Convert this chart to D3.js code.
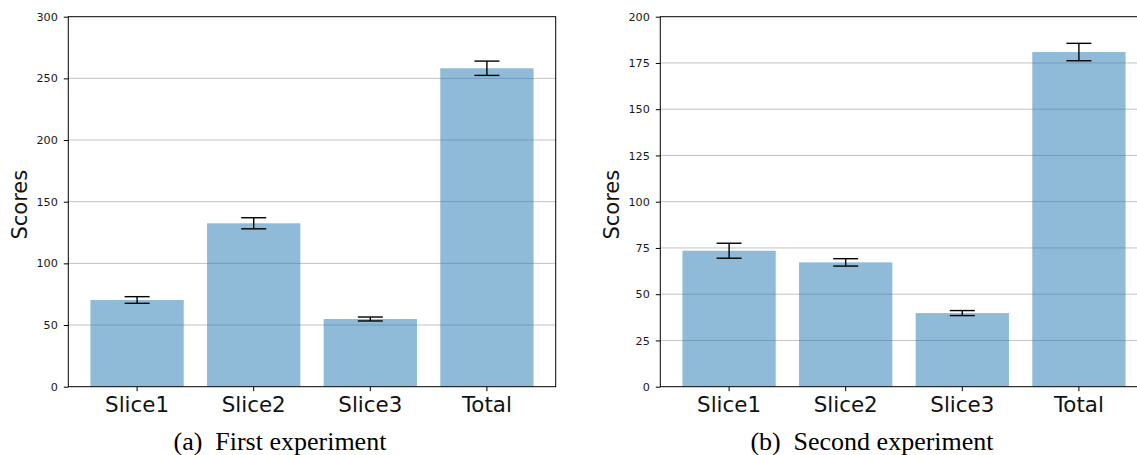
<!DOCTYPE html>
<html>
<head>
<meta charset="utf-8">
<script src="https://cdn.jsdelivr.net/npm/d3@7"></script>
<style>
  html, body { margin: 0; padding: 0; background: #fff; }
  svg { display: block; }
</style>
</head>
<body>
<svg id="fig" width="1137" height="455"></svg>
<script>
// Categories shared by both experiments
const categories = ["Slice1", "Slice2", "Slice3", "Total"];

// First experiment: mean scores and error half-widths
const firstScores = [70.3, 132.5, 54.9, 258.2];
const firstErrors = [2.7, 4.5, 1.6, 5.8];
const firstTicks = [0, 50, 100, 150, 200, 250, 300];

// Second experiment: mean scores and error half-widths
const secondScores = [73.5, 67.2, 39.8, 180.9];
const secondErrors = [4.05, 2.0, 1.35, 4.7];
const secondTicks = [0, 25, 50, 75, 100, 125, 150, 175, 200];

const captions = [
  { tag: "(a)", text: "First experiment" },
  { tag: "(b)", text: "Second experiment" }
];

const svg = d3.select("#fig");

const plotW = 487.4, plotTop = 16.7, plotBottom = 386.7;

function panel(left, scores, errors, ticks, caption) {
  const g = svg.append("g");
  const x = d3.scaleBand()
    .domain(categories)
    .range([left, left + plotW])
    .paddingInner(0.2)
    .paddingOuter(0.19);
  const y = d3.scaleLinear()
    .domain([ticks[0], ticks[ticks.length - 1]])
    .range([plotBottom, plotTop]);

  // horizontal grid
  g.append("g").selectAll("line")
    .data(ticks.slice(1, -1))
    .join("line")
    .attr("x1", left).attr("x2", left + plotW)
    .attr("y1", d => y(d)).attr("y2", d => y(d))
    .attr("stroke", "#c2c2c2")
    .attr("stroke-width", 1);

  // bars
  g.append("g").selectAll("rect")
    .data(categories)
    .join("rect")
    .attr("x", d => x(d))
    .attr("width", x.bandwidth())
    .attr("y", (d, i) => y(scores[i]))
    .attr("height", (d, i) => y(0) - y(scores[i]))
    .attr("fill", "#1f77b4")
    .attr("fill-opacity", 0.5);

  // error bars with caps
  const eb = g.append("g").attr("stroke", "#000").attr("stroke-width", 1.4);
  categories.forEach((c, i) => {
    const cx = x(c) + x.bandwidth() / 2;
    const lo = y(scores[i] - errors[i]), hi = y(scores[i] + errors[i]);
    eb.append("line").attr("x1", cx).attr("x2", cx).attr("y1", lo).attr("y2", hi);
    eb.append("line").attr("x1", cx - 12.5).attr("x2", cx + 12.5).attr("y1", lo).attr("y2", lo);
    eb.append("line").attr("x1", cx - 12.5).attr("x2", cx + 12.5).attr("y1", hi).attr("y2", hi);
  });

  // y axis
  const ya = g.append("g")
    .attr("transform", `translate(${left},0)`)
    .call(d3.axisLeft(y).tickValues(ticks).tickSize(4.5).tickPadding(6).tickFormat(d3.format("d")));
  ya.select(".domain").remove();
  ya.selectAll("line").attr("stroke", "#000").attr("stroke-width", 1);
  ya.selectAll("text")
    .attr("font-family", "DejaVu Sans")
    .attr("font-size", 11.2)
    .attr("fill", "#1a1a1a");

  // x axis
  const xa = g.append("g")
    .attr("transform", `translate(0,${plotBottom})`)
    .call(d3.axisBottom(x).tickSize(4.5).tickPadding(6));
  xa.select(".domain").remove();
  xa.selectAll("line").attr("stroke", "#000").attr("stroke-width", 1);
  xa.selectAll("text")
    .attr("font-family", "DejaVu Sans")
    .attr("font-size", 21.4)
    .attr("fill", "#111")
    .attr("dy", null)
    .attr("y", 412.3 - plotBottom);

  // frame
  g.append("rect")
    .attr("x", left).attr("y", plotTop)
    .attr("width", plotW).attr("height", plotBottom - plotTop)
    .attr("fill", "none")
    .attr("stroke", "#000")
    .attr("stroke-width", 1);

  // y label
  g.append("text")
    .attr("transform", `translate(${left - 41.3},${(plotTop + plotBottom) / 2 + 3}) rotate(-90)`)
    .attr("text-anchor", "middle")
    .attr("font-family", "DejaVu Sans")
    .attr("font-size", 21)
    .attr("fill", "#111")
    .text("Scores");

  // caption, centred a little left of the plot centre
  const cap = svg.append("text")
    .attr("x", left + plotW / 2 - 32)
    .attr("y", 449.5)
    .attr("text-anchor", "middle")
    .attr("font-family", "Liberation Serif")
    .attr("font-size", 26)
    .attr("fill", "#000");
  cap.append("tspan").text(caption.tag);
  cap.append("tspan").attr("dx", 12.8).text(caption.text);
}

panel(68.3, firstScores, firstErrors, firstTicks, captions[0]);
panel(660.3, secondScores, secondErrors, secondTicks, captions[1]);
</script>
</body>
</html>
